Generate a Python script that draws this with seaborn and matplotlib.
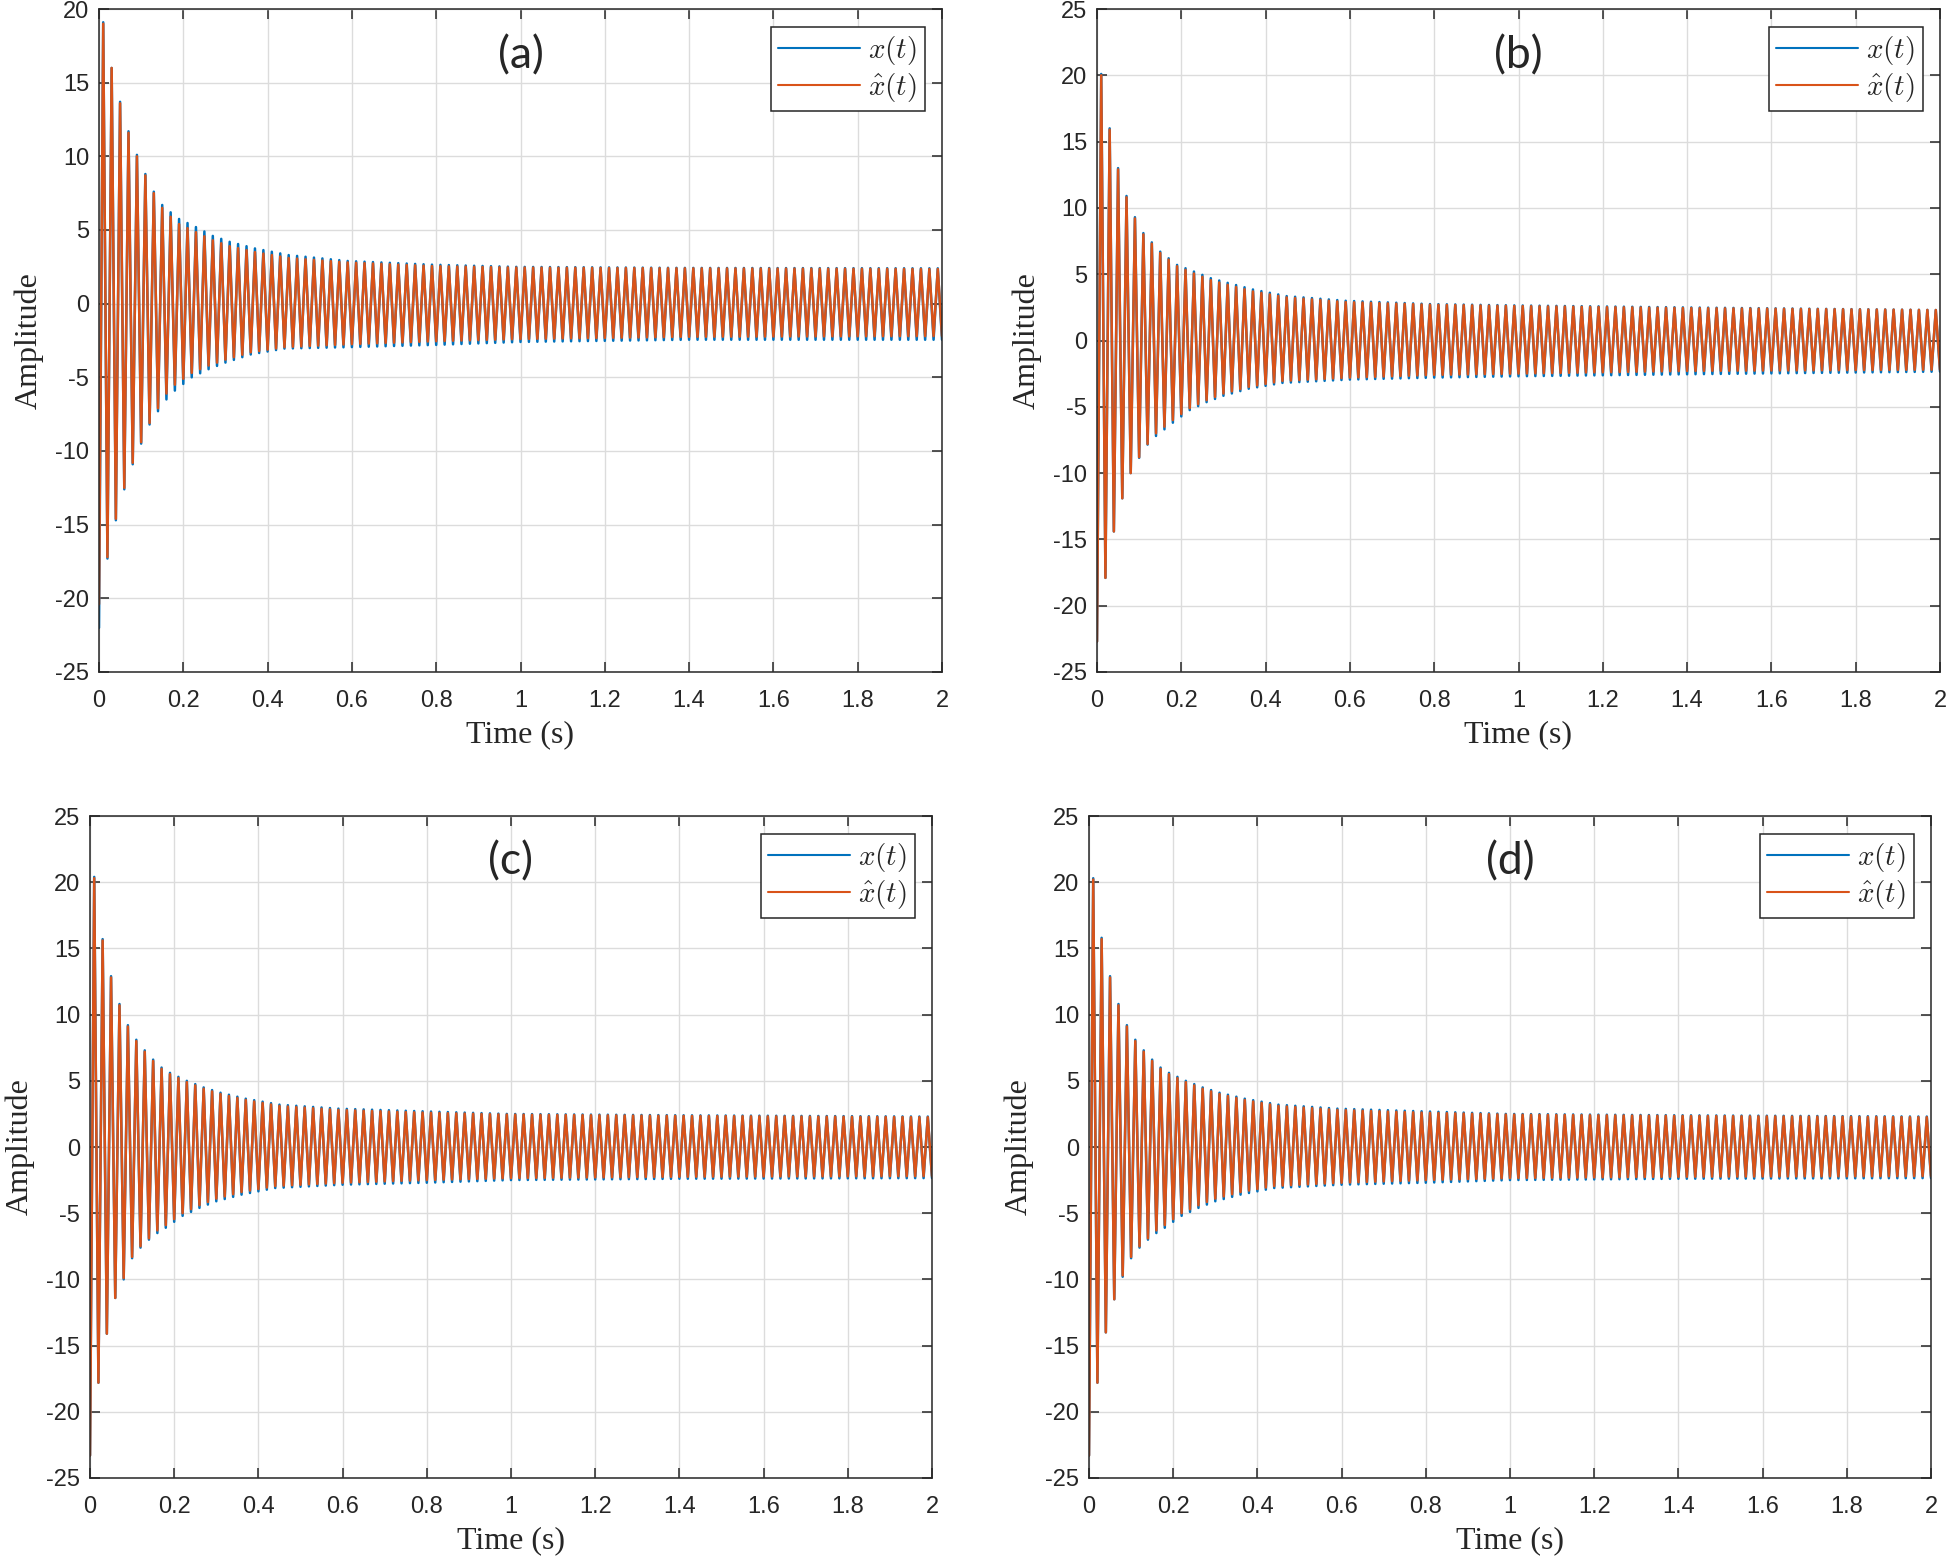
import numpy as np
import matplotlib
matplotlib.use("Agg")
import matplotlib.pyplot as plt
import seaborn as sns


# 50 Hz oscillation: one positive and one negative peak every 20 ms
PERIOD = 0.02
T_END = 2.0

T_UP = [0.01, 0.03, 0.05, 0.07, 0.09, 0.11, 0.13, 0.15, 0.17, 0.19,
        0.23, 0.27, 0.31, 0.37, 0.45, 0.59, 0.79, 0.99, 1.39, 1.99]
T_LO = [0.00, 0.02, 0.04, 0.06, 0.08, 0.10, 0.12, 0.14, 0.16, 0.18,
        0.22, 0.26, 0.30, 0.36, 0.44, 0.60, 0.80, 1.00, 1.40, 2.00]

# panel (a)
A_UP_X = [19.1, 16.0, 13.7, 11.7, 10.1, 8.8, 7.6, 6.7, 6.2, 5.75,
          5.2, 4.6, 4.2, 3.75, 3.3, 2.9, 2.65, 2.5, 2.43, 2.4]
A_UP_XH = [19.0, 16.0, 13.6, 11.6, 10.0, 8.7, 7.5, 6.5, 5.9, 5.4,
           4.85, 4.3, 3.9, 3.5, 3.1, 2.8, 2.55, 2.45, 2.4, 2.35]
A_LO_X = [-22.0, -17.3, -14.7, -12.6, -10.9, -9.5, -8.2, -7.3, -6.5, -5.9,
          -5.0, -4.45, -4.0, -3.45, -3.05, -2.95, -2.8, -2.6, -2.45, -2.45]
A_LO_XH = [-20.4, -17.2, -14.6, -12.5, -10.8, -9.4, -8.1, -7.1, -6.1, -5.5,
           -4.7, -4.2, -3.8, -3.3, -2.95, -2.75, -2.55, -2.4, -2.25, -2.2]

# panel (b)
B_UP_X = [20.1, 16.0, 13.0, 10.9, 9.3, 8.1, 7.4, 6.7, 6.2, 5.7,
          5.2, 4.7, 4.35, 3.85, 3.35, 3.0, 2.75, 2.65, 2.5, 2.3]
B_UP_XH = [20.0, 15.9, 12.9, 10.8, 9.2, 8.0, 7.3, 6.6, 6.1, 5.6,
           5.05, 4.55, 4.2, 3.7, 3.25, 2.9, 2.7, 2.6, 2.45, 2.3]
B_LO_X = [-22.7, -17.9, -14.4, -11.9, -10.0, -8.85, -7.85, -7.2, -6.7, -6.2,
          -5.25, -4.65, -4.17, -3.64, -3.2, -2.95, -2.8, -2.7, -2.55, -2.35]
B_LO_XH = [-22.7, -17.9, -14.4, -11.9, -10.0, -8.8, -7.8, -7.0, -6.5, -6.0,
           -5.1, -4.5, -4.0, -3.5, -3.05, -2.8, -2.6, -2.5, -2.3, -2.2]

# panel (c)
C_UP_X = [20.4, 15.7, 12.9, 10.8, 9.2, 8.1, 7.3, 6.6, 6.0, 5.6,
          5.0, 4.5, 4.1, 3.65, 3.2, 2.9, 2.7, 2.5, 2.4, 2.3]
C_UP_XH = [20.3, 15.6, 12.8, 10.7, 9.1, 8.0, 7.2, 6.5, 5.9, 5.5,
           4.9, 4.4, 4.0, 3.55, 3.1, 2.8, 2.6, 2.45, 2.35, 2.25]
C_LO_X = [-23.3, -17.8, -14.1, -11.4, -10.0, -8.4, -7.6, -7.0, -6.5, -6.1,
          -5.2, -4.6, -4.1, -3.6, -3.1, -2.85, -2.7, -2.5, -2.4, -2.35]
C_LO_XH = [-23.3, -17.8, -14.1, -11.4, -9.9, -8.3, -7.5, -6.9, -6.3, -5.9,
           -5.0, -4.4, -3.9, -3.4, -2.95, -2.7, -2.5, -2.35, -2.25, -2.2]

# panel (d)
D_UP_X = [20.3, 15.8, 12.9, 10.8, 9.2, 8.1, 7.3, 6.6, 6.0, 5.6,
          5.0, 4.5, 4.1, 3.65, 3.2, 2.9, 2.7, 2.5, 2.4, 2.3]
D_UP_XH = [20.2, 15.7, 12.8, 10.7, 9.1, 8.0, 7.2, 6.5, 5.9, 5.5,
           4.9, 4.4, 4.0, 3.55, 3.1, 2.8, 2.6, 2.45, 2.35, 2.25]
D_LO_X = [-23.3, -17.8, -14.0, -11.5, -9.8, -8.4, -7.6, -7.0, -6.5, -6.1,
          -5.2, -4.6, -4.1, -3.6, -3.1, -2.85, -2.7, -2.5, -2.4, -2.35]
D_LO_XH = [-23.3, -17.8, -14.0, -11.5, -9.7, -8.3, -7.5, -6.9, -6.3, -5.9,
           -5.0, -4.4, -3.9, -3.4, -2.95, -2.7, -2.5, -2.35, -2.25, -2.2]

PANEL_LABELS = ["(a)", "(b)", "(c)", "(d)"]
Y_LIMITS = [(-25, 20), (-25, 25), (-25, 25), (-25, 25)]
X_TICK_LABELS = ["0", "0.2", "0.4", "0.6", "0.8", "1", "1.2", "1.4", "1.6", "1.8", "2"]
SERIES = [
    (A_UP_X, A_LO_X, A_UP_XH, A_LO_XH),
    (B_UP_X, B_LO_X, B_UP_XH, B_LO_XH),
    (C_UP_X, C_LO_X, C_UP_XH, C_LO_XH),
    (D_UP_X, D_LO_X, D_UP_XH, D_LO_XH),
]

BLUE = "#0072BD"
ORANGE = "#D95319"
W, H = 1946, 1558

# axes boxes in pixels: left, right, top, bottom
AX_BOXES = [
    (99, 942, 9, 672),
    (1097, 1940, 9, 672),
    (90, 932, 816, 1478),
    (1089, 1931, 816, 1478),
]


def waveform(up, lo):
    t_lo = np.arange(0, T_END + 1e-9, PERIOD)
    t_up = t_lo[:-1] + PERIOD / 2
    t = np.empty(t_lo.size + t_up.size)
    v = np.empty_like(t)
    t[0::2] = t_lo
    t[1::2] = t_up
    v[0::2] = np.interp(t_lo, T_LO, lo)
    v[1::2] = np.interp(t_up, T_UP, up)
    return t, v


sns.set_style("ticks")
plt.rcParams["font.family"] = ["Liberation Sans", "DejaVu Sans"]
plt.rcParams["mathtext.fontset"] = "cm"
plt.rcParams["axes.unicode_minus"] = False

fig = plt.figure(figsize=(W / 100, H / 100), dpi=100)

for i in range(4):
    left, right, top, bottom = AX_BOXES[i]
    ax = fig.add_axes([left / W, 1 - bottom / H, (right - left) / W, (bottom - top) / H])

    up_x, lo_x, up_xh, lo_xh = SERIES[i]
    t, x = waveform(up_x, lo_x)
    t2, xh = waveform(up_xh, lo_xh)

    sns.lineplot(x=t, y=x, ax=ax, color=BLUE, linewidth=1.8, sort=False,
                 estimator=None, label=r"$x(t)$")
    sns.lineplot(x=t2, y=xh, ax=ax, color=ORANGE, linewidth=1.8, sort=False,
                 estimator=None, label=r"$\hat{x}(t)$")

    ymin, ymax = Y_LIMITS[i]
    ax.set_xlim(0, 2)
    ax.set_ylim(ymin, ymax)
    ax.set_xticks(np.arange(0, 2.01, 0.2))
    ax.set_xticklabels(X_TICK_LABELS)
    ax.set_yticks(np.arange(ymin, ymax + 1, 5))

    ax.grid(True, color="#dcdcdc", linewidth=1.0)
    ax.set_axisbelow(True)
    for s in ax.spines.values():
        s.set_visible(True)
        s.set_linewidth(1.1)
        s.set_color("#262626")

    ax.tick_params(direction="in", top=True, right=True, length=7, width=1.1,
                   color="#262626", labelsize=17)
    ax.tick_params(axis="x", pad=13)
    ax.tick_params(axis="y", pad=7)

    ax.set_xlabel("Time (s)", family="Liberation Serif", fontsize=23, labelpad=6)
    ax.set_ylabel("Amplitude", family="Liberation Serif", fontsize=23, labelpad=8)

    ax.text(1.0, 0.93, PANEL_LABELS[i], transform=ax.get_xaxis_transform(),
            ha="center", va="center", fontsize=32, family="Lato")

    leg = ax.legend(loc="upper right", fontsize=21, handlelength=2.8,
                    fancybox=False, framealpha=1, edgecolor="#262626",
                    borderaxespad=0.6, borderpad=0.25, labelspacing=0.15,
                    handletextpad=0.3)
    leg.get_frame().set_linewidth(1.1)
    for line in leg.get_lines():
        line.set_linewidth(1.5)

fig.savefig("out.png", dpi=100)
